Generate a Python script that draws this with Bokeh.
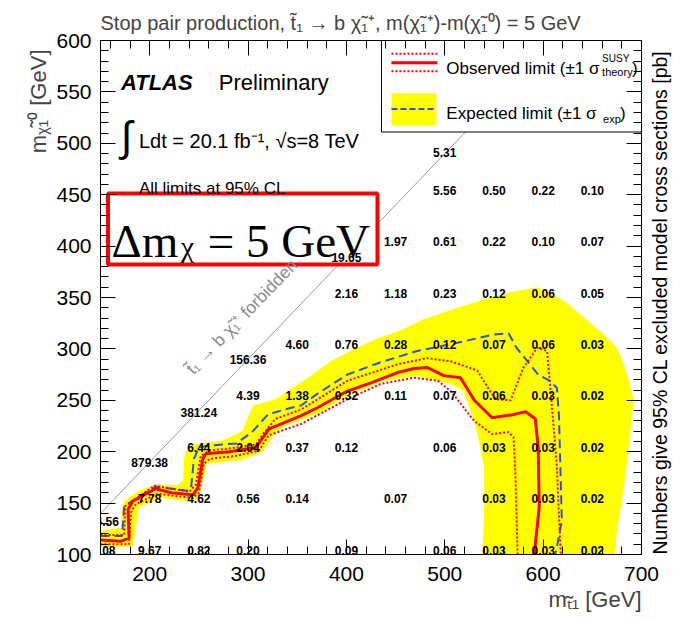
import math
from bokeh.plotting import figure
from bokeh.models import (Range1d, LinearAxis, SingleIntervalTicker, Label, LabelSet,
                          ColumnDataSource, Title, NoOverlap)
from bokeh.core.properties import value
from bokeh.embed import file_html
from bokeh.resources import INLINE

# ---------------- data ----------------
# grid of excluded cross sections [pb]
num_x = [500, 550, 600, 650,
         450, 500, 550, 600, 650,
         400, 450, 500, 550, 600, 650,
         350, 400, 450, 500, 550, 600, 650,
         300, 350, 400, 450, 500, 550, 600, 650,
         250, 300, 350, 400, 500, 550, 600, 650,
         200, 250, 300, 350, 450, 550, 600, 650,
         150, 200, 250, 300, 400, 500, 550, 600, 650,
         150, 200, 250, 300, 400, 500]
num_y = [450, 450, 450, 450,
         400, 400, 400, 400, 400,
         350, 350, 350, 350, 350, 350,
         300, 300, 300, 300, 300, 300, 300,
         250, 250, 250, 250, 250, 250, 250, 250,
         200, 200, 200, 200, 200, 200, 200, 200,
         150, 150, 150, 150, 150, 150, 150, 150,
         100, 100, 100, 100, 100, 100, 100, 100, 100,
         128, 185, 234, 285, 385, 487]
num_txt = ["5.56", "0.50", "0.22", "0.10",
           "1.97", "0.61", "0.22", "0.10", "0.07",
           "2.16", "1.18", "0.23", "0.12", "0.06", "0.05",
           "4.60", "0.76", "0.28", "0.12", "0.07", "0.06", "0.03",
           "4.39", "1.38", "0.32", "0.11", "0.07", "0.06", "0.03", "0.02",
           "6.44", "2.04", "0.37", "0.12", "0.06", "0.03", "0.03", "0.02",
           "7.78", "4.62", "0.56", "0.14", "0.07", "0.03", "0.03", "0.02",
           "31.08", "9.67", "0.82", "0.20", "0.09", "0.06", "0.03", "0.03", "0.02",
           "496.56", "879.38", "381.24", "156.36", "19.65", "5.31"]

# observed limit
obs_x = [150, 171, 179, 178, 183, 206, 222, 244, 249, 254, 257, 281, 308, 321, 354, 371,
         401, 425, 452, 469, 482, 499, 516, 530, 548, 569, 582, 592, 595, 596, 591]
obs_y = [114, 113, 116, 144, 152, 164, 160, 158, 165, 193, 198, 200, 204, 222, 235, 243,
         259, 267, 277, 281, 282, 274, 272, 250, 233, 236, 239, 232, 204, 146, 100]
# observed +1 sigma theory
obs_up_x = [150, 174, 175, 205, 240, 247, 252, 261, 288, 308, 315, 328, 354, 401, 452,
            482, 506, 533, 546, 552, 567, 580, 594, 604, 609, 614, 616, 618]
obs_up_y = [119, 119, 147, 167, 161, 168, 196, 201, 204, 207, 217, 232, 241, 269, 285,
            291, 288, 279, 259, 251, 250, 282, 301, 298, 243, 185, 139, 100]
# observed -1 sigma theory
obs_lo_x = [150, 179, 181, 186, 208, 244, 250, 255, 261, 288, 311, 321, 354, 401, 435,
            469, 493, 507, 524, 530, 548, 565, 570, 572, 574]
obs_lo_y = [110, 110, 141, 149, 159, 155, 160, 188, 193, 196, 201, 216, 227, 251, 266,
            272, 269, 258, 237, 230, 217, 219, 214, 172, 100]
# expected limit
exp_x = [150, 172, 174, 179, 206, 238, 242, 245, 250, 260, 288, 304, 320, 337, 354, 370,
         401, 435, 472, 513, 550, 565, 573, 595, 607, 614, 616, 617, 619, 614, 612]
exp_y = [118, 118, 146, 150, 166, 162, 164, 193, 204, 206, 208, 219, 236, 241, 245, 256,
         275, 287, 298, 306, 314, 315, 301, 275, 269, 262, 236, 204, 133, 107, 100]
# expected +-1 sigma band: outer edge (left to right), then inner edge (right to left)
band_out_x = [150, 164, 171, 171, 174, 189, 206, 227, 234, 235, 237, 244, 274, 294, 305,
              328, 364, 384, 404, 431, 455, 479, 513, 546, 567, 594, 621, 641, 662, 675,
              682, 690, 692, 687, 682, 675, 673]
band_out_y = [123, 125, 126, 141, 152, 162, 168, 167, 172, 193, 201, 207, 211, 220, 245,
              251, 274, 288, 298, 310, 318, 329, 340, 350, 355, 360, 347, 331, 314, 301,
              285, 259, 250, 204, 165, 123, 100]
band_in_x = [538, 540, 540, 536, 530, 519, 506, 472, 438, 404, 371, 337, 328, 315, 294,
             257, 257, 250, 237, 213, 189, 186, 183, 166, 150]
band_in_y = [100, 139, 185, 204, 230, 259, 266, 274, 269, 256, 237, 225, 219, 200, 192,
             188, 183, 155, 152, 155, 146, 126, 108, 107, 107]
# kinematic boundary
diag_x = [150, 610]
diag_y = [140, 600]

x_ticks_interval = 100
y_ticks_interval = 50
y_tick_values = [100, 150, 200, 250, 300, 350, 400, 450, 500, 550, 600]
right_title = "Numbers give 95% CL excluded model cross sections [pb]"

# ---------------- helpers for placing annotations (page px -> data) ----------------
FL, FT, FW, FH = 99.5, 40.0, 542.0, 514.0
def dx(xp):
    return 150 + (xp - FL) * 550.0 / FW
def dy(yp):
    return 600 - (yp - FT) * 500.0 / FH

FONT = "Liberation Sans"
RED = "#ff0000"
BLUE = "#3050e8"
YELLOW = "#ffff00"

t1 = "t\u0303\u2081"
chi_p = "\u03c7\u0303\u2081\u207a"
chi_0 = "\u03c7\u0303\u2081\u2070"

p = figure(width=684, height=620, x_range=Range1d(150, 700), y_range=Range1d(100, 600),
           output_backend="svg", toolbar_location=None,
           x_axis_type=None, y_axis_type=None,
           min_border_left=100, min_border_right=42, min_border_top=40, min_border_bottom=66)
p.outline_line_color = "black"
p.outline_line_width = 1
p.background_fill_color = "white"
p.border_fill_color = "white"

# title
p.title.text = ("Stop pair production, " + t1 + " \u2192 b " + chi_p + ", m(" + chi_p +
                ")-m(" + chi_0 + ") = 5 GeV")
p.title.align = "left"
p.title.text_font = FONT
p.title.text_font_size = "20px"
p.title.text_font_style = "normal"
p.title.standoff = 14

def make_axis(interval, labels, standoff=8):
    ax = LinearAxis(ticker=SingleIntervalTicker(interval=interval, num_minor_ticks=5),
                    major_tick_in=15, major_tick_out=0, minor_tick_in=8, minor_tick_out=0,
                    axis_line_color="black", major_tick_line_color="black",
                    minor_tick_line_color="black")
    if labels:
        ax.major_label_text_font_size = "21px"
        ax.major_label_text_font = FONT
        ax.major_label_text_color = "black"
        ax.major_label_standoff = standoff
    else:
        ax.major_label_text_font_size = "0px"
        ax.major_label_standoff = 0
        ax.major_label_policy = NoOverlap(min_distance=5000)
    return ax

p.add_layout(make_axis(x_ticks_interval, True, 12), "below")
p.add_layout(make_axis(y_ticks_interval, True, 9), "left")
p.add_layout(make_axis(x_ticks_interval, False), "above")

# right axis: inward ticks; its lowest tick carries the rotated side title,
# which then runs upwards along the frame as in the reference
right_ax = make_axis(y_ticks_interval, True, 18)
right_ax.major_label_text_font_size = "19.5px"
right_ax.major_label_orientation = math.pi / 2
overrides = {v: "" for v in y_tick_values}
overrides[y_tick_values[0]] = right_title
right_ax.major_label_overrides = overrides
right_ax.major_label_policy = NoOverlap(min_distance=5000)
p.add_layout(right_ax, "right")

# axis titles (placed at the far ends, as in the reference)
p.add_layout(Title(text="m\u209c\u0303\u2081 [GeV]", align="right", text_font=FONT,
                   text_font_size="22px", text_font_style="normal", standoff=2), "below")
p.add_layout(Title(text="m\u1d6a\u0303\u2081\u2070 [GeV]", align="right", text_font=FONT,
                   text_font_size="22px", text_font_style="normal", standoff=6, offset=9), "left")

# band
p.patch(band_out_x + band_in_x, band_out_y + band_in_y, fill_color=YELLOW, line_color=None)
# kinematic line
p.line(diag_x, diag_y, line_color="#999999", line_width=1)
# boxes (delta m box + legend)
p.quad(left=dx(107), right=dx(377), top=dy(193), bottom=dy(264),
       fill_color="white", line_color=RED, line_width=4)
p.quad(left=dx(381), right=700, top=600, bottom=dy(131.5),
       fill_color="white", line_color="black", line_width=1)

# limits
p.line(exp_x, exp_y, line_color=BLUE, line_width=2, line_dash="9 5")
p.line(obs_up_x, obs_up_y, line_color=RED, line_width=2, line_dash="2 2")
p.line(obs_lo_x, obs_lo_y, line_color=RED, line_width=2, line_dash="2 2")
p.line(obs_x, obs_y, line_color=RED, line_width=3)

# legend samples
lx = [dx(391), dx(437)]
p.line(lx, [dy(53.3)] * 2, line_color=RED, line_width=2, line_dash="2 2")
p.line(lx, [dy(70.7)] * 2, line_color=RED, line_width=2, line_dash="2 2")
p.line(lx, [dy(62.3)] * 2, line_color=RED, line_width=3)
p.quad(left=dx(391), right=dx(436), top=dy(92.7), bottom=dy(125), fill_color=YELLOW, line_color=None)
p.line([dx(391), dx(436)], [dy(108.5)] * 2, line_color=BLUE, line_width=2, line_dash="6 3")

# numbers
src = ColumnDataSource(dict(x=num_x, y=num_y, t=num_txt))
p.add_layout(LabelSet(x="x", y="y", text="t", source=src, text_align="center",
                      text_baseline="alphabetic", text_font=value(FONT),
                      text_font_size="12px", text_font_style="bold",
                      text_color="black"))

def lab(xp, yp, text, size, style="normal", font=FONT, align="left", baseline="alphabetic",
        angle=0.0, color="black"):
    p.add_layout(Label(x=dx(xp), y=dy(yp), text=text, text_font=font,
                       text_font_size=size, text_font_style=style, text_align=align,
                       text_baseline=baseline, angle=angle, text_color=color))

# ATLAS
lab(120, 82, "ATLAS", "22px", "bold italic")
lab(218, 82, "Preliminary", "22px")
lab(125.5, 136, "\u222b", "42px", align="center", baseline="middle")
lab(138, 140, "Ldt = 20.1 fb\u207b\u00b9,  \u221as=8 TeV", "20px")
lab(138, 188, "All limits at 95% CL", "17px")
# delta m
lab(110.5, 240, "\u0394m", "47px", font="Liberation Serif")
lab(180, 246, "\u03c7", "30px", font="Liberation Serif")
lab(207, 240, "= 5 GeV", "47px", font="Liberation Serif")
# forbidden text
lab(241, 316, t1 + " \u2192 b " + chi_p + " forbidden", "17.5px", align="center",
    baseline="middle", angle=math.radians(46), color="#8c8c8c")
# legend texts
lab(446, 67.5, "Observed limit (\u00b11 \u03c3", "17px")
lab(602, 58, "SUSY", "10px")
lab(602, 71.5, "theory", "11px")
lab(632, 67.5, ")", "17px")
lab(446, 113.3, "Expected limit (\u00b11 \u03c3", "17px")
lab(603, 118, "exp", "11px")
lab(620, 113.3, ")", "17px")

open("out.html", "w").write(file_html(p, INLINE))
